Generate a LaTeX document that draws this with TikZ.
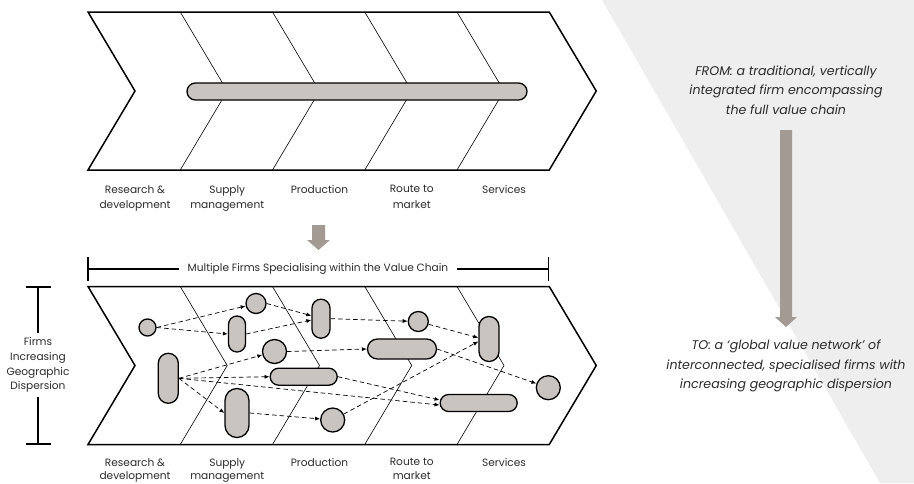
\documentclass[tikz,border=0pt]{standalone}
\usepackage{fontspec}
\setmainfont{Poppins}
\usetikzlibrary{arrows.meta}
\definecolor{pillfill}{HTML}{C9C4BF}
\definecolor{arrowgray}{HTML}{A39A93}
\definecolor{bggray}{HTML}{EEEEEE}
\definecolor{txt}{HTML}{2B2B2B}
\begin{document}
\begin{tikzpicture}[x=1pt,y=-1pt,
  outline/.style={draw=black, line width=1.5pt, line join=miter},
  divider/.style={draw=black, line width=0.6pt},
  pill/.style 2 args={draw=black, fill=pillfill, line width=1.3pt, inner sep=0pt,
     minimum width=#1, minimum height=#2, rounded corners={min(#1,#2)/2-0.05}},
  firmc/.style={circle, draw=black, fill=pillfill, line width=1.3pt, inner sep=0pt, minimum size=#1},
  flow/.style={draw=black, line width=0.7pt, dash pattern=on 4.5pt off 3pt, -{Latex[length=5pt,width=4pt]}},
  lbl/.style={font=\fontsize{10.6}{15.5}\selectfont, text=txt, align=center, inner sep=0pt, anchor=north},
  blbl/.style={font=\fontsize{10.6}{13.3}\selectfont, text=txt, align=center, inner sep=0pt, anchor=north},
  note/.style={font=\fontsize{12.6}{19.5}\selectfont\itshape, text=txt, align=center, inner sep=0pt},
  bigarrow/.style={fill=arrowgray, draw=none},
  brk/.style={draw=black, line width=1.3pt}
]
\useasboundingbox (0,0) rectangle (914,483);
% background
\fill[bggray] (602,0) -- (914,0) -- (914,483) -- (880,483) -- cycle;

% ---------- top chevron ----------
\foreach \xx in {180.25,272.5,364.75,457} {
  \draw[divider] (\xx,12) -- (\xx+47,91) -- (\xx,170);
}
\draw[outline] (88,12) -- (549.25,12) -- (596.25,91) -- (549.25,170) -- (88,170) -- (135,91) -- cycle;
\node[pill={340}{17}] (fullfirm) at (357,91.5) {};

% top labels
\node[lbl] (t1) at (135,185) {Research \&\\development};
\node[lbl] (t2) at (227.25,185) {Supply\\management};
\node[lbl] (t3) at (319.5,185) {Production};
\node[lbl] (t4) at (411.75,185) {Route to\\market};
\node[lbl] (t5) at (504,185) {Services};

% down arrow between
\fill[bigarrow] (312,225) -- (325,225) -- (325,240) -- (330,240) -- (318.5,250) -- (307,240) -- (312,240) -- cycle;

% bracket
\node[font=\fontsize{10.6}{12}\selectfont, text=txt, inner xsep=9pt, inner ysep=0pt] (mtext) at (318,269) {Multiple Firms Specialising within the Value Chain};
\coordinate (bl) at (88,269);
\coordinate (br) at (548.5,269);
\draw[brk] (bl) -- (mtext.west);
\draw[brk] (mtext.east) -- (br);
\draw[brk] (88,257) -- (88,281);
\draw[brk] (548.5,257) -- (548.5,281);

% left vertical bracket
\node[font=\fontsize{10.6}{14.7}\selectfont, text=txt, align=center, inner xsep=0pt, inner ysep=4pt] (ftext) at (38,365) {Firms\\Increasing\\Geographic\\Dispersion};
\coordinate (vt) at (38,287);
\coordinate (vb) at (38,444);
\draw[brk] (vt) -- (ftext.north);
\draw[brk] (ftext.south) -- (vb);
\draw[brk] (26,287) -- (51,287);
\draw[brk] (26,444) -- (51,444);

% ---------- bottom chevron ----------
\foreach \xx in {180.25,272.5,364.75,457} {
  \draw[divider] (\xx,286.5) -- (\xx+47,365.5) -- (\xx,444.5);
}
\draw[outline] (88,286.5) -- (549.25,286.5) -- (596.25,365.5) -- (549.25,444.5) -- (88,444.5) -- (135,365.5) -- cycle;

% firms
\node[firmc=17] (c1) at (147.5,327.5) {};
\node[firmc=20] (c2) at (256,303.5) {};
\node[pill={17}{36}] (p3) at (237,334) {};
\node[pill={18}{39}] (p4) at (321,318.7) {};
\node[firmc=24] (c5) at (274.5,351.5) {};
\node[pill={20}{50}] (p6) at (168.3,378.3) {};
\node[pill={67}{17}] (p7) at (303.7,376.7) {};
\node[pill={24}{49}] (p8) at (237,413) {};
\node[firmc=24] (c9) at (332.7,420) {};
\node[pill={69}{20}] (p10) at (402,349) {};
\node[firmc=20] (c11) at (418.3,321.5) {};
\node[pill={20}{45}] (p12) at (489,339) {};
\node[firmc=24] (c13) at (548.3,387.7) {};
\node[pill={77}{17}] (p14) at (478.7,403) {};

% flows
\draw[flow] (c1.east) -- (c2);
\draw[flow] (c1.east) -- (p3.west);
\draw[flow] (c2.east) -- ([yshift=3pt]p4.west);
\draw[flow] (p3.east) -- ([yshift=-1.3pt]p4.west);
\draw[flow] (p4.east) -- (c11);
\draw[flow] (c11) -- ([yshift=1.3pt]p12.west);
\draw[flow] (c5.east) -- (p10.west);
\draw[flow] (p10.east) -- (c13);
\draw[flow] (p6.east) -- (c5);
\draw[flow] (p6.east) -- (p7.west);
\draw[flow] (p6.east) -- (p8.west);
\draw[flow] (p6.east) -- ([yshift=-2pt]p14.west);
\draw[flow] (p7.east) -- ([yshift=3pt]p14.west);
\draw[flow] (p8.east) -- (c9);
\draw[flow] (c9) -- ([yshift=-2.5pt]p12.west);

% bottom labels
\node[blbl] (b1) at (135,458.3) {Research \&\\development};
\node[blbl] (b2) at (227.25,458.3) {Supply\\management};
\node[blbl] (b3) at (319.5,458.3) {Production};
\node[blbl] (b4) at (411.75,458.3) {Route to\\market};
\node[blbl] (b5) at (504,458.3) {Services};

% right side
\node[note] (from) at (786,90) {FROM: a traditional, vertically\\integrated firm encompassing\\the full value chain};
\node[note] (to) at (786,366) {TO: a ‘global value network’ of\\interconnected, specialised firms with\\increasing geographic dispersion};
\fill[bigarrow] (780,130) -- (792,130) -- (792,317) -- (797,317) -- (786,327) -- (775,317) -- (780,317) -- cycle;
\end{tikzpicture}
\end{document}
